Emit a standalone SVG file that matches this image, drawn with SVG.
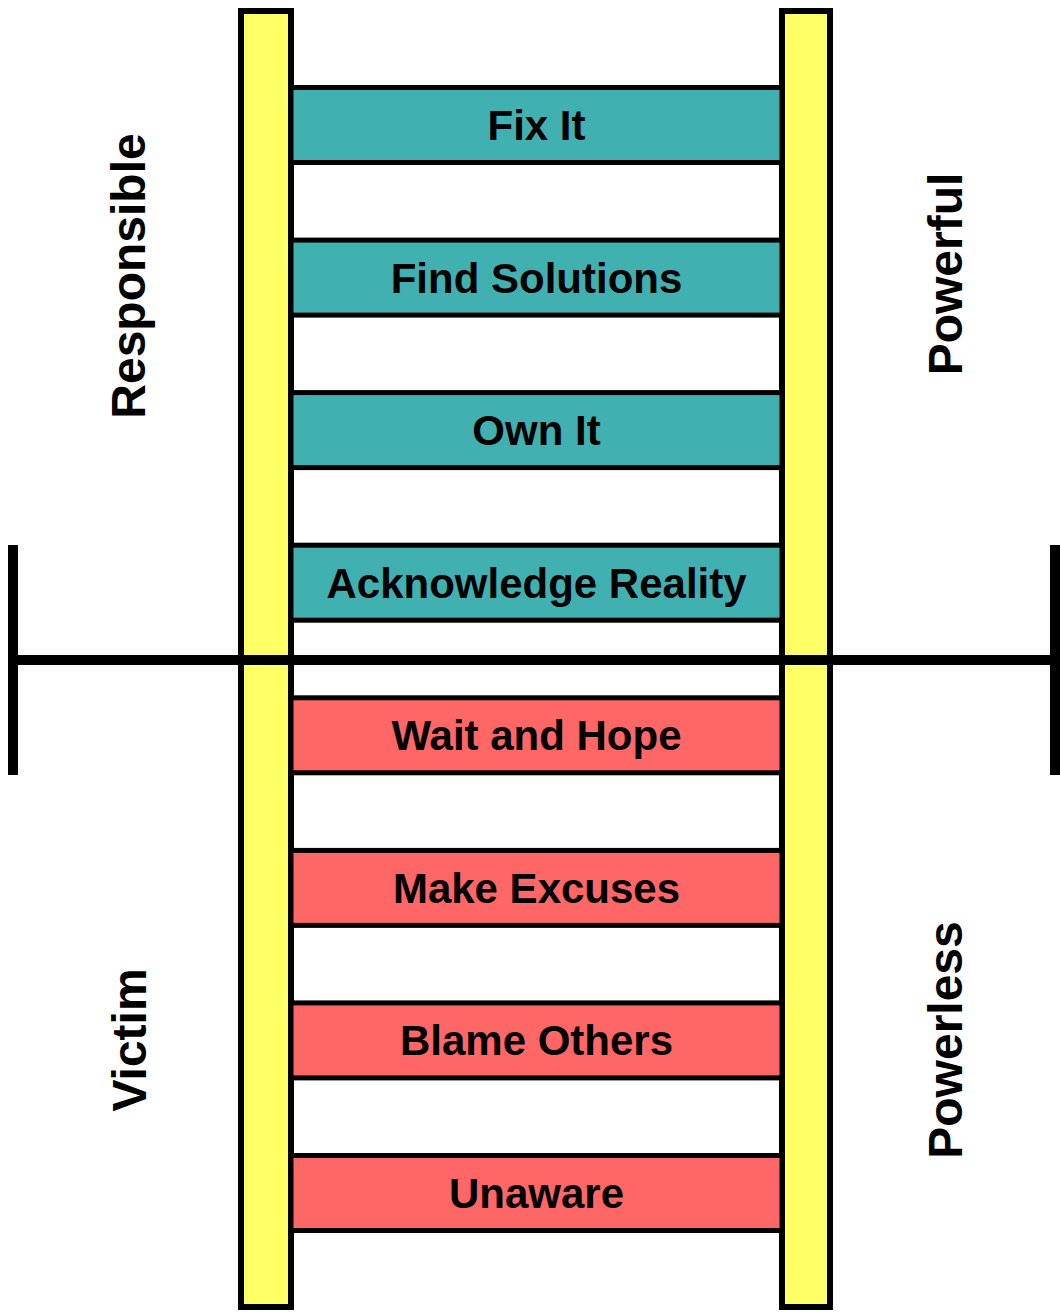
<svg xmlns="http://www.w3.org/2000/svg" width="1060" height="1312" viewBox="0 0 1060 1312">
  <style>
    .rail { fill: #FFFF66; stroke: #000; stroke-width: 6; }
    .up { fill: #40B0B0; stroke: #000; stroke-width: 5; }
    .down { fill: #FF6666; stroke: #000; stroke-width: 5; }
    .rt { font-family: "Liberation Sans", Arial, sans-serif; font-weight: bold; font-size: 42px; fill: #000; text-anchor: middle; }
    .side { font-family: "Liberation Sans", Arial, sans-serif; font-weight: bold; font-size: 48px; fill: #000; text-anchor: middle; }
    .bar { stroke: #000; stroke-width: 10; fill: none; }
  </style>
  <rect width="1060" height="1312" fill="#fff"/>
  <g id="rail-left"><rect class="rail" x="241" y="11" width="50" height="1296"/></g>
  <g id="rail-right"><rect class="rail" x="782" y="11" width="48" height="1296"/></g>

  <g id="rung-fix-it"><rect class="up" x="291" y="87.5" width="491" height="75"/><text class="rt" x="536.5" y="140">Fix It</text></g>
  <g id="rung-find-solutions"><rect class="up" x="291" y="240.1" width="491" height="75"/><text class="rt" x="536.5" y="292.6">Find Solutions</text></g>
  <g id="rung-own-it"><rect class="up" x="291" y="392.6" width="491" height="75"/><text class="rt" x="536.5" y="445.1">Own It</text></g>
  <g id="rung-acknowledge-reality"><rect class="up" x="291" y="545.2" width="491" height="75"/><text class="rt" x="536.5" y="597.7">Acknowledge Reality</text></g>
  <g id="rung-wait-and-hope"><rect class="down" x="291" y="697.8" width="491" height="75"/><text class="rt" x="536.5" y="750.3">Wait and Hope</text></g>
  <g id="rung-make-excuses"><rect class="down" x="291" y="850.4" width="491" height="75"/><text class="rt" x="536.5" y="902.9">Make Excuses</text></g>
  <g id="rung-blame-others"><rect class="down" x="291" y="1002.9" width="491" height="75"/><text class="rt" x="536.5" y="1055.4">Blame Others</text></g>
  <g id="rung-unaware"><rect class="down" x="291" y="1155.5" width="491" height="75"/><text class="rt" x="536.5" y="1208">Unaware</text></g>

  <g id="connectors">
    <line class="bar" x1="13" y1="660" x2="1055" y2="660"/>
    <line class="bar" x1="13" y1="545" x2="13" y2="775"/>
    <line class="bar" x1="1055" y1="545" x2="1055" y2="775"/>
  </g>

  <g id="label-responsible"><text class="side" transform="translate(145 276) rotate(-90)">Responsible</text></g>
  <g id="label-victim"><text class="side" transform="translate(146 1040) rotate(-90)">Victim</text></g>
  <g id="label-powerful"><text class="side" transform="translate(962 274) rotate(-90)">Powerful</text></g>
  <g id="label-powerless"><text class="side" transform="translate(962 1040) rotate(-90)">Powerless</text></g>
</svg>
